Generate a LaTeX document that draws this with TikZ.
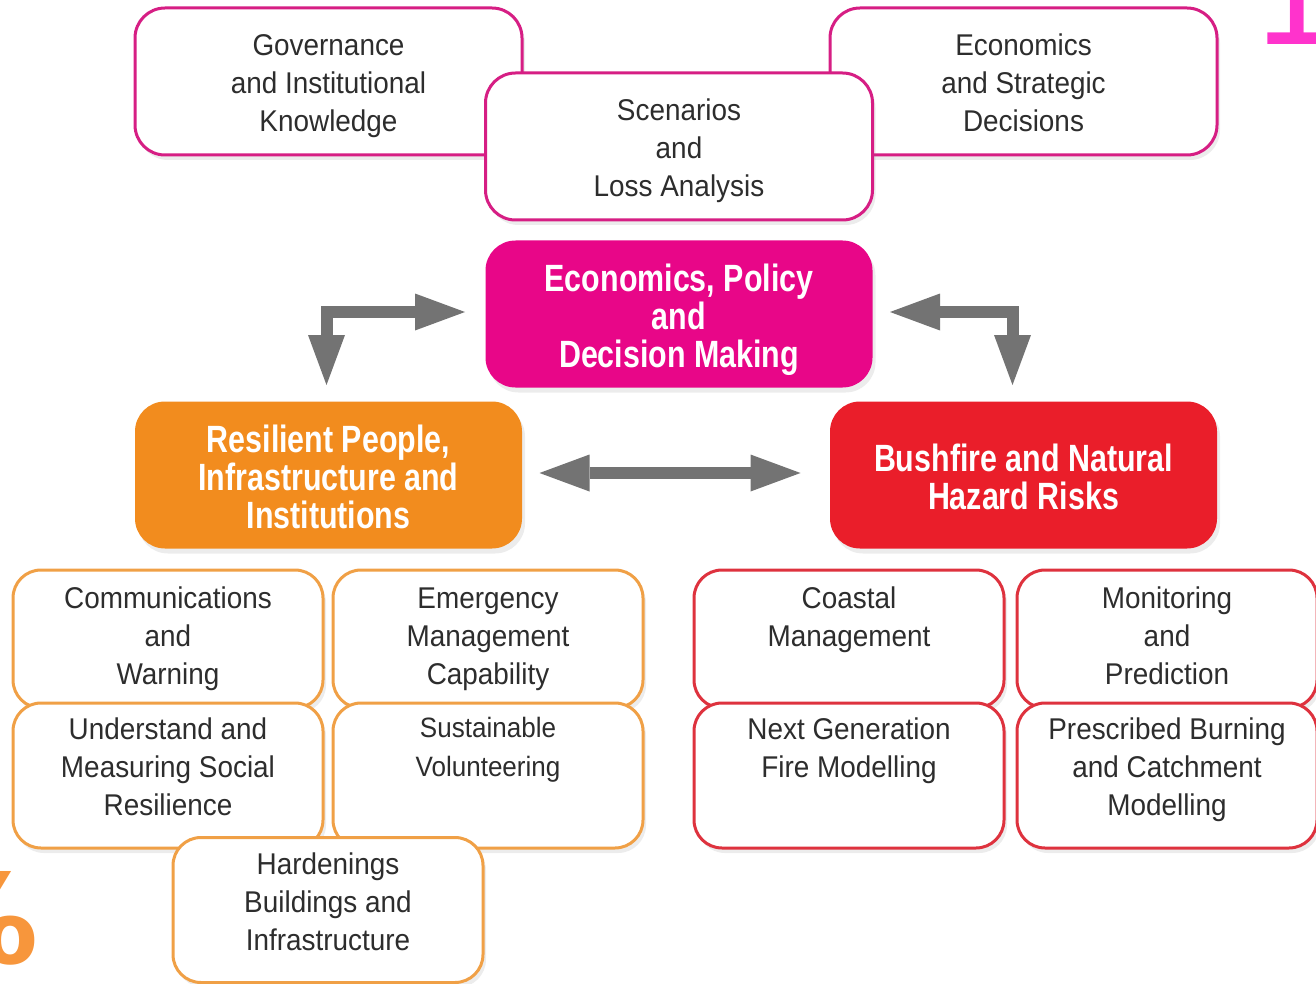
\documentclass[tikz,border=0pt]{standalone}
\usepackage{fontspec}
\setmainfont[FakeStretch=0.93]{Liberation Sans}
\newfontfamily\headfont[FakeStretch=0.8]{Liberation Sans}
\newfontfamily\edgefont{DejaVu Sans}
\usetikzlibrary{arrows.meta,shadows}
\definecolor{pinkline}{RGB}{214,30,132}
\definecolor{pinkfill}{RGB}{232,6,136}
\definecolor{orangefill}{RGB}{242,140,30}
\definecolor{orangeline}{RGB}{240,160,70}
\definecolor{redfill}{RGB}{234,30,42}
\definecolor{redline}{RGB}{222,50,62}
\definecolor{arrowgray}{RGB}{115,115,115}
\definecolor{textgray}{RGB}{45,45,45}
\definecolor{pinkmark}{RGB}{255,51,204}
\definecolor{orangemark}{RGB}{247,150,60}
\begin{document}
\begin{tikzpicture}[x=0.5pt,y=-0.5pt,
    box/.style={draw, line width=1.5pt, rounded corners=14pt, fill=white, align=center,
      text=textgray, font=\fontsize{15}{19}\selectfont, text depth=0pt,
      drop shadow={shadow xshift=1.5pt, shadow yshift=-2.5pt, opacity=0.15}},
    bigbox/.style={box, minimum width=193.5pt, minimum height=73.5pt, rounded corners=15pt,
      text height=50.25pt},
    headbox/.style={box, minimum width=193.5pt, minimum height=73.5pt, rounded corners=15pt,
      draw=none, text=white, font=\headfont\bfseries\fontsize{19}{19}\selectfont,
      text height=53.6pt},
    upbox/.style={box, minimum width=155pt, minimum height=69pt, text height=45.75pt},
    lowbox/.style={box, minimum width=155pt, minimum height=72.5pt, text height=40.25pt},
    garrow/.style={draw=arrowgray, line width=6pt,
      {Triangle[length=25pt,width=18.5pt,line width=0pt]}-{Triangle[length=25pt,width=18.5pt,line width=0pt]}}]
  \useasboundingbox (0,0) rectangle (1316,984);

  % page edge marks
  \node[anchor=base west, inner sep=0pt, text=pinkmark, font=\edgefont\fontsize{70}{70}\selectfont] (pagenum) at (1250,45) {1};
  \node[anchor=base west, inner sep=0pt, text=orangemark, font=\edgefont\bfseries\fontsize{62}{62}\selectfont] (percent) at (-86,963) {\%};

  % top row
  \node[bigbox, draw=pinkline] (govern) at (328.5,81.5) {Governance\\and Institutional\\Knowledge};
  \node[bigbox, draw=pinkline] (strategy) at (1023.5,81.5) {Economics\\and Strategic\\Decisions};
  \node[bigbox, draw=pinkline] (scenario) at (679,146.5) {Scenarios\\and\\Loss Analysis};

  % main themes
  \node[headbox, fill=pinkfill] (policy) at (679,314) {Economics, Policy\\and\\Decision Making};
  \node[headbox, fill=orangefill] (resilient) at (328.5,475) {Resilient People,\\Infrastructure and\\Institutions};
  \node[headbox, fill=redfill, text height=34.6pt] (hazard) at (1023.5,475) {Bushfire and Natural\\Hazard Risks};

  \draw[garrow, shorten <=9.5pt, shorten >=7.5pt] ([yshift=1pt]policy.west) -| ([xshift=-1pt]resilient.north);
  \draw[garrow, shorten <=8pt, shorten >=7.5pt] ([yshift=1pt]policy.east) -| ([xshift=-5.5pt]hazard.north);
  \draw[garrow, shorten <=8pt, shorten >=14pt] ([yshift=1pt]resilient.east) -- ([yshift=1pt]hazard.west);

  % projects
  \node[upbox, draw=orangeline] (comm) at (168,639) {Communications\\and\\Warning};
  \node[upbox, draw=orangeline] (emerg) at (488,639) {Emergency\\Management\\Capability};
  \node[upbox, draw=redline] (coastal) at (849,639) {Coastal\\Management\\~};
  \node[upbox, draw=redline, minimum width=150pt] (monitor) at (1167,639) {Monitoring\\and\\Prediction};

  \node[lowbox, draw=orangeline] (understand) at (168,775.5) {Understand and\\Measuring Social\\Resilience};
  \node[lowbox, draw=orangeline, font=\fontsize{14}{19.5}\selectfont] (sustain) at (488,775.5) {Sustainable\\Volunteering\\~};
  \node[lowbox, draw=redline] (nextgen) at (849,775.5) {Next Generation\\Fire Modelling\\~};
  \node[lowbox, draw=redline, minimum width=150pt] (prescribed) at (1167,775.5) {Prescribed Burning\\and Catchment\\Modelling};

  \node[lowbox, draw=orangeline] (harden) at (328,910) {Hardenings\\Buildings and\\Infrastructure};
\end{tikzpicture}
\end{document}
